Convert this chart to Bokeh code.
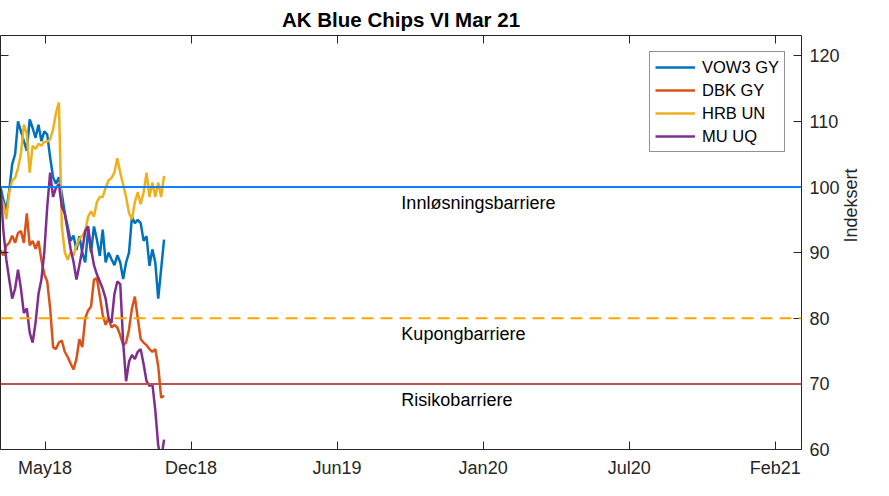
import math
from bokeh.plotting import figure
from bokeh.models import (LinearAxis, Range1d, FixedTicker, Span, Legend, LegendItem,
                          ColumnDataSource)
from bokeh.embed import file_html
from bokeh.resources import INLINE
from bokeh.core.properties import value

# ---- data ----
days = [0, 4, 8, 12, 16, 20, 24, 28, 32, 36, 40, 44, 48, 52, 56, 60, 64, 68, 72, 76,
        80, 84, 88, 92, 96, 100, 104, 108, 112, 116, 120, 124, 128, 132, 136, 140, 144,
        148, 152, 156, 160, 164, 168, 172, 176, 180, 184, 188, 192, 196, 200, 204, 208,
        212, 216, 220, 224]

vow3 = [100.0, 98.0, 96.5, 99.5, 103.5, 105.0, 110.0, 108.5, 107.0, 105.5, 110.3, 109.0,
        107.5, 109.5, 107.0, 108.5, 108.0, 104.5, 101.5, 100.5, 101.5, 99.0, 96.0, 94.0,
        91.8, 92.6, 90.4, 92.5, 90.0, 88.5, 93.5, 90.0, 94.0, 92.0, 89.5, 93.5, 88.5, 90.0,
        89.0, 88.1, 89.6, 88.5, 86.0, 88.5, 90.0, 95.5, 94.5, 95.0, 94.5, 91.8, 92.5, 88.0,
        90.5, 88.5, 83.0, 87.5, 92.0]

dbk = [90.4, 89.6, 91.1, 91.5, 92.6, 91.5, 93.0, 93.3, 91.5, 96.0, 91.1, 91.8, 90.6, 91.8,
       88.9, 86.7, 85.6, 81.5, 75.6, 75.3, 76.3, 76.6, 74.9, 74.1, 73.1, 72.2, 73.8, 76.8,
       75.6, 80.0, 81.2, 81.8, 85.9, 86.1, 83.4, 80.5, 79.0, 80.0, 78.6, 79.0, 78.6, 77.4,
       75.9, 76.3, 78.3, 81.5, 83.3, 80.0, 76.8, 76.3, 75.9, 75.3, 74.9, 75.3, 72.7, 67.9,
       68.2]

hrb = [98.5, 97.4, 95.1, 99.2, 101.0, 101.4, 102.9, 105.1, 109.5, 108.1, 102.2, 106.3,
       105.8, 106.6, 106.3, 106.9, 106.9, 107.3, 108.8, 111.3, 112.9, 94.0, 90.1, 88.9,
       90.1, 89.6, 91.1, 92.1, 92.6, 93.3, 95.5, 96.3, 95.5, 97.7, 98.5, 98.5, 99.9, 101.0,
       101.4, 102.2, 104.4, 102.2, 100.4, 98.5, 96.0, 95.1, 97.7, 99.2, 97.4, 99.2, 102.2,
       98.5, 100.7, 98.5, 100.7, 98.5, 101.7]

mu = [99.9, 93.3, 88.9, 85.9, 83.0, 84.5, 87.4, 84.5, 80.8, 81.5, 77.8, 76.3, 79.3, 83.7,
      85.9, 90.1, 97.0, 102.2, 98.5, 99.9, 100.4, 97.0, 96.0, 93.3, 90.6, 88.6, 85.9, 88.1,
      90.4, 93.3, 94.0, 90.6, 88.1, 86.7, 85.6, 84.5, 83.0, 80.0, 79.3, 83.7, 85.6, 85.2,
      76.3, 70.4, 73.4, 74.4, 73.8, 74.9, 75.3, 73.0, 70.4, 69.7, 70.0, 66.0, 60.6, 58.5,
      61.5]

series_names = ["VOW3 GY", "DBK GY", "HRB UN", "MU UQ"]
series_colors = ["#0072BD", "#D95319", "#EDB120", "#7E2F8E"]

barrier_levels = [100, 80, 70]
barrier_names = ["Innløsningsbarriere", "Kupongbarriere", "Risikobarriere"]
barrier_colors = ["#0A80FF", "#FFA500", "#C0504D"]
barrier_dash = ["solid", "12 7", "solid"]

x_tick_days = [61, 261, 461, 661, 861, 1061]
x_tick_labels = ["May18", "Dec18", "Jun19", "Jan20", "Jul20", "Feb21"]
y_ticks = [60, 70, 80, 90, 100, 110, 120]

FONT = "Liberation Sans"
AX = "#262626"

p = figure(width=873, height=480, x_range=Range1d(0, 1097), y_range=Range1d(60, 123.1),
           output_backend="svg", toolbar_location=None,
           x_axis_location=None, y_axis_location=None,
           min_border_left=0, min_border_right=0, min_border_top=0, min_border_bottom=0)
p.grid.visible = False
p.outline_line_color = None
p.background_fill_color = "white"
p.border_fill_color = "white"

p.title.text = "AK Blue Chips VI Mar 21"
p.title.align = "center"
p.title.text_font = FONT
p.title.text_font_size = "20.5px"
p.title.text_font_style = "bold"
p.title.text_color = "black"
p.title.standoff = 10


def style_axis(ax, labels=True):
    ax.axis_line_color = AX
    ax.axis_line_width = 1
    ax.major_tick_line_color = AX
    ax.major_tick_in = 8
    ax.major_tick_out = 0
    ax.minor_tick_line_color = None
    ax.major_label_text_font = FONT
    ax.major_label_text_color = AX
    if labels:
        ax.major_label_text_font_size = "18px"
        ax.major_label_standoff = 8
    else:
        ax.major_label_text_font_size = "0px"
        ax.major_label_standoff = 0


xt = FixedTicker(ticks=x_tick_days)
yt = FixedTicker(ticks=y_ticks)
overrides = {d: lab for d, lab in zip(x_tick_days, x_tick_labels)}

bottom = LinearAxis(ticker=xt, major_label_overrides=overrides)
style_axis(bottom)
top = LinearAxis(ticker=xt, major_label_overrides={d: "" for d in x_tick_days})
style_axis(top, labels=False)
right = LinearAxis(ticker=yt, axis_label="Indeksert")
style_axis(right)
right.axis_label_text_font = FONT
right.axis_label_text_font_size = "18px"
right.axis_label_text_font_style = "normal"
right.axis_label_text_color = AX
right.axis_label_standoff = 8
right.axis_label_orientation = math.pi / 2
left = LinearAxis(ticker=yt, major_label_overrides={t: "" for t in y_ticks})
style_axis(left, labels=False)

p.add_layout(bottom, "below")
p.add_layout(top, "above")
p.add_layout(right, "right")
p.add_layout(left, "left")

# barriers
for lvl, col, dash in zip(barrier_levels, barrier_colors, barrier_dash):
    p.add_layout(Span(location=lvl, dimension="width", line_color=col,
                      line_width=2, line_dash=dash))

label_src = ColumnDataSource(dict(x=[549] * len(barrier_levels),
                                  y=[lvl - 2.45 for lvl in barrier_levels],
                                  text=barrier_names))
p.text(x="x", y="y", text="text", source=label_src, text_font=value(FONT),
       text_font_size="18px", text_baseline="middle", text_align="left",
       text_color="black")

# series
renderers = []
for vals, col in zip([vow3, dbk, hrb, mu], series_colors):
    src = ColumnDataSource(dict(x=days, y=vals))
    r = p.line("x", "y", source=src, line_color=col, line_width=2.5)
    renderers.append(r)

legend = Legend(items=[LegendItem(label=n, renderers=[r]) for n, r in zip(series_names, renderers)],
                location="top_right", margin=16, padding=5, spacing=3,
                glyph_width=40, glyph_height=20, label_height=20, label_standoff=7,
                label_text_font=FONT, label_text_font_size="16.5px", label_text_color="black",
                border_line_color=AX, border_line_width=1, background_fill_color="white",
                background_fill_alpha=1.0)
p.add_layout(legend)

open("out.html", "w").write(file_html(p, INLINE))
